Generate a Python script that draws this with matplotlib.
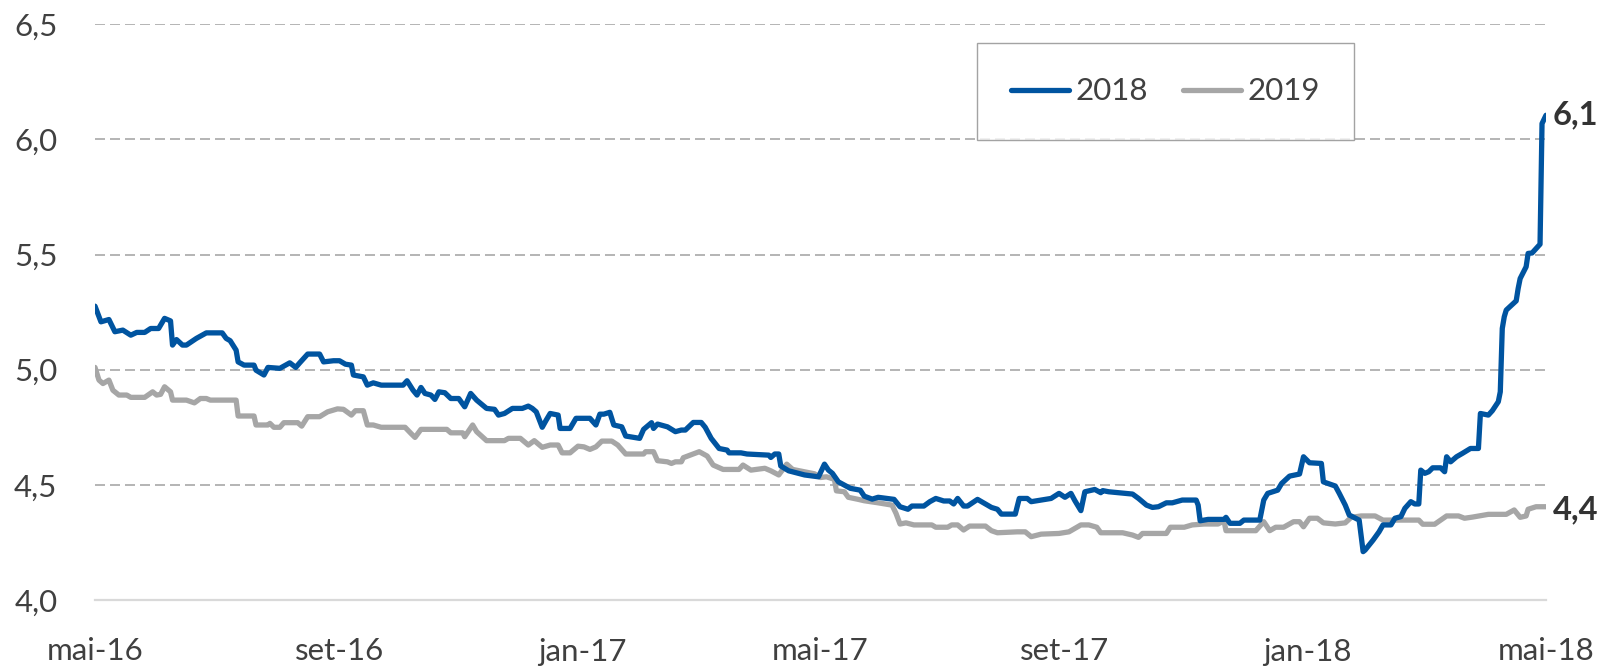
import numpy as np
import matplotlib
matplotlib.use("Agg")
import matplotlib.pyplot as plt
import matplotlib.dates as mdates

# ---- data ----
start_date = "2016-05-01"

days_2018 = [0, 3, 7, 10, 14, 18, 21, 25, 28, 32, 35, 38, 39, 41, 44, 46, 51, 56, 64, 66,
             68, 71, 72, 75, 80, 81, 85, 87, 93, 98, 101, 103, 107, 113, 115, 120, 123, 126, 129, 130,
             135, 137, 140, 144, 155, 157, 160, 162, 164, 166, 169, 171, 173, 176, 179, 183, 186, 189, 192, 197,
             201, 203, 206, 210, 215, 218, 220, 222, 225, 227, 229, 233, 234, 239, 242, 249, 252, 254, 256, 259,
             261, 265, 267, 274, 276, 280, 281, 283, 288, 292, 295, 297, 301, 305, 307, 310, 314, 318, 319, 325,
             328, 339, 340, 342, 344, 345, 349, 357, 364, 367, 369, 371, 374, 377, 380, 385, 387, 391, 394, 402,
             405, 409, 411, 417, 420, 423, 427, 430, 432, 434, 437, 439, 443, 444, 448, 451, 454, 456, 463, 465,
             469, 471, 481, 485, 488, 491, 493, 496, 498, 503, 506, 507, 510, 515, 522, 525, 529, 532, 535, 539,
             542, 547, 554, 555, 556, 560, 568, 569, 571, 576, 578, 586, 588, 590, 595, 597, 601, 606, 608, 611,
             617, 618, 624, 626, 629, 631, 636, 638, 639, 643, 646, 648, 652, 654, 657, 659, 662, 664, 666, 667,
             669, 671, 673, 677, 679, 680, 682, 685, 688, 692, 696, 697, 701, 703, 706, 707, 708, 709, 710, 715,
             716, 717, 720, 721, 723, 727, 728, 730]
values_2018 = [5.276, 5.208, 5.218, 5.165, 5.172, 5.150, 5.162, 5.162, 5.179, 5.179, 5.223, 5.212, 5.107, 5.131, 5.107, 5.107, 5.136, 5.160, 5.160, 5.136,
               5.126, 5.085, 5.034, 5.020, 5.020, 4.998, 4.977, 5.010, 5.006, 5.030, 5.010, 5.030, 5.068, 5.068, 5.034, 5.039, 5.039, 5.024, 5.020, 4.977,
               4.969, 4.933, 4.943, 4.933, 4.933, 4.952, 4.911, 4.890, 4.923, 4.897, 4.890, 4.871, 4.904, 4.900, 4.875, 4.875, 4.839, 4.897, 4.868, 4.832,
               4.828, 4.803, 4.810, 4.832, 4.832, 4.842, 4.832, 4.817, 4.750, 4.781, 4.810, 4.803, 4.745, 4.745, 4.789, 4.789, 4.760, 4.807, 4.807, 4.815,
               4.760, 4.752, 4.712, 4.702, 4.741, 4.770, 4.745, 4.764, 4.752, 4.731, 4.738, 4.738, 4.771, 4.771, 4.750, 4.702, 4.658, 4.651, 4.639, 4.639,
               4.634, 4.629, 4.619, 4.634, 4.634, 4.582, 4.561, 4.543, 4.535, 4.590, 4.564, 4.550, 4.513, 4.499, 4.485, 4.477, 4.451, 4.438, 4.446, 4.437,
               4.405, 4.394, 4.408, 4.408, 4.427, 4.441, 4.430, 4.430, 4.417, 4.441, 4.408, 4.408, 4.431, 4.437, 4.417, 4.402, 4.394, 4.373, 4.373, 4.441,
               4.441, 4.427, 4.441, 4.463, 4.446, 4.463, 4.431, 4.388, 4.470, 4.480, 4.466, 4.475, 4.470, 4.466, 4.460, 4.441, 4.412, 4.402, 4.405, 4.422,
               4.422, 4.434, 4.434, 4.412, 4.344, 4.350, 4.350, 4.359, 4.333, 4.333, 4.347, 4.347, 4.434, 4.463, 4.477, 4.506, 4.538, 4.547, 4.622, 4.596,
               4.593, 4.513, 4.495, 4.463, 4.412, 4.369, 4.347, 4.210, 4.217, 4.260, 4.296, 4.326, 4.326, 4.355, 4.362, 4.398, 4.427, 4.417, 4.417, 4.564,
               4.550, 4.557, 4.574, 4.574, 4.557, 4.622, 4.600, 4.622, 4.637, 4.658, 4.658, 4.810, 4.803, 4.822, 4.861, 4.904, 5.179, 5.230, 5.259, 5.299,
               5.353, 5.396, 5.447, 5.505, 5.507, 5.545, 6.069, 6.105]

days_2019 = [0, 2, 4, 7, 9, 12, 16, 18, 25, 29, 31, 33, 35, 38, 39, 46, 50, 53, 56, 58,
             71, 72, 80, 81, 87, 88, 90, 93, 95, 102, 104, 107, 113, 117, 122, 125, 129, 131, 135, 137,
             140, 144, 156, 159, 161, 164, 177, 179, 185, 186, 190, 192, 197, 206, 208, 214, 218, 221, 225, 229,
             233, 235, 239, 243, 246, 249, 252, 255, 260, 263, 267, 276, 277, 281, 283, 288, 290, 292, 295, 296,
             301, 304, 308, 311, 316, 324, 326, 330, 337, 340, 344, 348, 351, 359, 362, 365, 368, 372, 373, 377,
             379, 384, 387, 394, 401, 403, 405, 408, 412, 421, 423, 429, 431, 434, 437, 440, 448, 451, 454, 464,
             468, 471, 476, 485, 490, 493, 496, 500, 504, 506, 517, 522, 525, 527, 539, 541, 548, 552, 558, 565,
             568, 569, 584, 588, 591, 594, 598, 603, 606, 608, 611, 615, 618, 624, 629, 632, 637, 644, 648, 666,
             668, 674, 680, 686, 689, 693, 701, 710, 714, 717, 720, 721, 725, 730]
values_2019 = [5.010, 4.955, 4.940, 4.955, 4.911, 4.890, 4.890, 4.880, 4.880, 4.904, 4.890, 4.893, 4.926, 4.904, 4.868, 4.868, 4.856, 4.875, 4.875, 4.868,
               4.868, 4.799, 4.799, 4.760, 4.760, 4.767, 4.750, 4.750, 4.770, 4.770, 4.755, 4.796, 4.796, 4.817, 4.830, 4.828, 4.803, 4.822, 4.822, 4.760,
               4.760, 4.750, 4.750, 4.723, 4.706, 4.741, 4.741, 4.726, 4.726, 4.709, 4.760, 4.731, 4.692, 4.692, 4.702, 4.702, 4.673, 4.692, 4.663, 4.673,
               4.673, 4.639, 4.639, 4.668, 4.665, 4.654, 4.665, 4.690, 4.690, 4.673, 4.634, 4.634, 4.644, 4.644, 4.605, 4.600, 4.593, 4.600, 4.600, 4.618,
               4.634, 4.644, 4.625, 4.586, 4.567, 4.567, 4.586, 4.564, 4.572, 4.561, 4.543, 4.590, 4.567, 4.553, 4.548, 4.532, 4.535, 4.524, 4.474, 4.470,
               4.446, 4.437, 4.431, 4.422, 4.412, 4.376, 4.330, 4.335, 4.326, 4.326, 4.316, 4.316, 4.326, 4.326, 4.304, 4.321, 4.321, 4.301, 4.292, 4.296,
               4.296, 4.275, 4.286, 4.289, 4.296, 4.311, 4.326, 4.326, 4.316, 4.292, 4.292, 4.282, 4.272, 4.289, 4.289, 4.316, 4.316, 4.326, 4.330, 4.330,
               4.344, 4.301, 4.301, 4.340, 4.301, 4.316, 4.316, 4.340, 4.340, 4.318, 4.355, 4.355, 4.335, 4.330, 4.335, 4.359, 4.365, 4.365, 4.347, 4.347,
               4.329, 4.329, 4.365, 4.365, 4.355, 4.360, 4.372, 4.372, 4.391, 4.359, 4.365, 4.394, 4.405, 4.405]

series_names = ["2018", "2019"]
end_labels = ["6,1", "4,4"]

tick_dates = ["2016-05-01", "2016-09-01", "2017-01-01", "2017-05-01",
              "2017-09-01", "2018-01-01", "2018-05-01"]
tick_labels = ["mai-16", "set-16", "jan-17", "mai-17", "set-17", "jan-18", "mai-18"]
y_ticks = [4.0, 4.5, 5.0, 5.5, 6.0, 6.5]
y_tick_labels = ["4,0", "4,5", "5,0", "5,5", "6,0", "6,5"]

# ---- styling ----
BLUE = "#0054A0"
GRAY = "#A6A6A6"
TEXT = "#404040"
FONT = ["Lato", "DejaVu Sans"]
FS = 22.5

plt.rcParams["font.family"] = FONT

fig = plt.figure(figsize=(16.21, 6.68), dpi=100)
ax = fig.add_axes([95 / 1621, 1 - 600 / 668, (1546 - 95) / 1621, (600 - 24.3) / 668])

t0 = np.datetime64(start_date)
d18 = mdates.date2num(t0 + np.array(days_2018, dtype="timedelta64[D]"))
d19 = mdates.date2num(t0 + np.array(days_2019, dtype="timedelta64[D]"))

l18, = ax.plot(d18, values_2018, color=BLUE, lw=3.8, solid_joinstyle="round",
               solid_capstyle="round", label=series_names[0], zorder=3)
l19, = ax.plot(d19, values_2019, color=GRAY, lw=3.8, solid_joinstyle="round",
               solid_capstyle="round", label=series_names[1], zorder=2)

xmin = mdates.date2num(np.datetime64(tick_dates[0]))
xmax = mdates.date2num(np.datetime64(tick_dates[-1]))
ax.set_xlim(xmin, xmax)
ax.set_ylim(4.0, 6.5)

ax.set_xticks([mdates.date2num(np.datetime64(d)) for d in tick_dates])
ax.set_xticklabels(tick_labels)
ax.set_yticks(y_ticks)
ax.set_yticklabels(y_tick_labels)
ax.tick_params(axis="both", length=0, labelsize=FS, colors=TEXT)
ax.tick_params(axis="x", pad=27)
ax.tick_params(axis="y", pad=27)

for s in ["top", "right", "left"]:
    ax.spines[s].set_visible(False)
ax.spines["bottom"].set_color("#D9D9D9")
ax.spines["bottom"].set_linewidth(1.6)

for yv in y_ticks[1:]:
    ax.axhline(yv, color="#A8A8A8", lw=1.2, linestyle=(0, (6, 3)), zorder=1)

# end labels
ax.annotate(end_labels[0], xy=(d18[-1], values_2018[-1]), xytext=(5, 0),
            textcoords="offset points", ha="left", va="center",
            fontsize=FS + 1, fontweight="bold", color="#333333", annotation_clip=False)
ax.annotate(end_labels[1], xy=(d19[-1], values_2019[-1]), xytext=(5, -2),
            textcoords="offset points", ha="left", va="center",
            fontsize=FS + 1, fontweight="bold", color="#333333", annotation_clip=False)

leg = fig.legend(handles=[l18, l19], loc="center",
                 bbox_to_anchor=((982 + 1349) / 2 / 1621, 1 - 91.5 / 668),
                 ncol=2, fontsize=FS, frameon=True, fancybox=False,
                 handlelength=1.85, handletextpad=0.2, columnspacing=1.15,
                 borderpad=1.1, borderaxespad=0)
leg.get_frame().set_edgecolor("#8C8C8C")
leg.get_frame().set_linewidth(1.0)
for t in leg.get_texts():
    t.set_color(TEXT)

fig.savefig("out.png", dpi=100)
